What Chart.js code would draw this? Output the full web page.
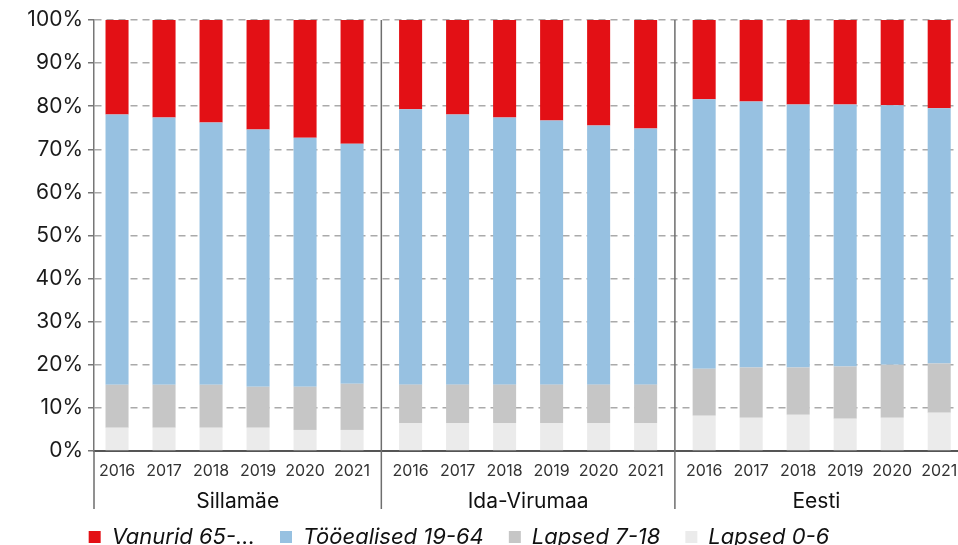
<!DOCTYPE html>
<html><head><meta charset="utf-8">
<script src="https://cdn.jsdelivr.net/npm/chart.js@4"></script>
<style>
html,body{margin:0;padding:0;overflow:hidden;background:#fff}
#wrap{width:958px;height:558px;position:relative}
</style>
</head><body>
<div id="wrap"><canvas id="c"></canvas></div>
<script>
// ---- data (percent shares), groups concatenated in order: Sillamäe, Ida-Virumaa, Eesti
const groups = ['Sillamäe', 'Ida-Virumaa', 'Eesti'];
const years = ['2016', '2017', '2018', '2019', '2020', '2021'];
const yTicks = [0, 10, 20, 30, 40, 50, 60, 70, 80, 90, 100];

const lapsed06   = [5.4, 5.4, 5.4, 5.4, 4.9, 4.9,   6.5, 6.5, 6.5, 6.5, 6.5, 6.5,   8.2, 7.7, 8.4, 7.5, 7.7, 8.9];
const lapsed718  = [10.0, 10.0, 10.0, 9.5, 10.0, 10.7,   8.9, 8.9, 8.9, 8.9, 8.9, 8.9,   10.9, 11.7, 11.0, 12.1, 12.3, 11.4];
const tooealised = [62.7, 62.0, 60.8, 59.7, 57.8, 55.7,   63.9, 62.7, 62.0, 61.3, 60.1, 59.4,   62.5, 61.7, 61.0, 60.8, 60.2, 59.2];
const vanurid    = [21.9, 22.6, 23.8, 25.4, 27.3, 28.7,   20.7, 21.9, 22.6, 23.3, 24.5, 25.2,   18.4, 18.9, 19.6, 19.6, 19.8, 20.5];

// ---- axis layout (category slots with a small extra gap between groups)
const GAP = 0.245;
const n = years.length;
const slot = k => Math.floor(k / n) * (n + GAP) + (k % n);
const positions = lapsed06.map((_, k) => slot(k));
const tickLabel = new Map(positions.map((p, k) => [p.toFixed(3), years[k % n]]));
const xMin = -0.49, xMax = positions[positions.length - 1] + 0.40;

const toPts = arr => arr.map((v, k) => ({ x: positions[k], y: v }));

const FONT = 'Inter, "Liberation Sans", Arial, sans-serif';

const groupPlugin = {
  id: 'groupPlugin',
  afterLayout(chart) {
    // nudge the legend row slightly left, as in the reference
    if (chart.legend) { chart.legend.left -= 20; chart.legend.right -= 20; }
  },
  afterDraw(chart) {
    const xs = chart.scales.x, ca = chart.chartArea, ctx = chart.ctx;
    const seps = [];
    for (let g = 1; g < groups.length; g++) seps.push(xs.getPixelForValue(g * (n + GAP) - (1 + GAP) / 2));
    const bounds = [ca.left, ...seps, ca.right];
    const bottom = ca.bottom + 58;
    ctx.save();
    ctx.strokeStyle = '#6e6e6e';
    ctx.lineWidth = 1.5;
    ctx.beginPath();
    ctx.moveTo(ca.left, ca.bottom); ctx.lineTo(ca.left, bottom);
    seps.forEach(x => { ctx.moveTo(x, ca.top); ctx.lineTo(x, bottom); });
    ctx.stroke();
    ctx.fillStyle = '#111';
    ctx.font = '21px ' + FONT;
    ctx.textAlign = 'center';
    ctx.textBaseline = 'middle';
    groups.forEach((gname, g) => {
      ctx.fillText(gname, (bounds[g] + bounds[g + 1]) / 2, ca.bottom + 51);
    });
    ctx.restore();
  }
};

new Chart(document.getElementById('c'), {
  type: 'bar',
  data: {
    datasets: [
      { label: 'Lapsed 0-6', data: toPts(lapsed06), backgroundColor: '#EBEBEB' },
      { label: 'Lapsed 7-18', data: toPts(lapsed718), backgroundColor: '#C6C6C6' },
      { label: 'Tööealised 19-64', data: toPts(tooealised), backgroundColor: '#97C1E1' },
      { label: 'Vanurid 65-...', data: toPts(vanurid), backgroundColor: '#E31015' }
    ]
  },
  options: {
    responsive: true,
    maintainAspectRatio: false,
    animation: false,
    layout: { padding: { top: 20, left: 0, right: 0, bottom: 0 } },
    datasets: { bar: { barPercentage: 0.49, categoryPercentage: 1, borderWidth: 0 } },
    plugins: {
      tooltip: { enabled: false },
      legend: {
        position: 'bottom',
        reverse: true,
        labels: {
          boxWidth: 12, boxHeight: 12, padding: 25,
          color: '#111',
          font: { family: FONT, size: 22, style: 'italic' }
        }
      }
    },
    scales: {
      x: {
        type: 'linear', stacked: true, min: xMin, max: xMax, offset: false,
        grid: { display: false },
        border: { display: true, color: '#555', width: 2 },
        afterBuildTicks: s => { s.ticks = positions.map(v => ({ value: v })); },
        afterFit: s => { s.height = 50; s.paddingLeft = 0; s.paddingRight = 0; },
        ticks: {
          autoSkip: false, maxRotation: 0, padding: 3, color: '#333',
          font: { family: FONT, size: 16 },
          callback: v => tickLabel.get(Number(v).toFixed(3)) || ''
        }
      },
      y: {
        stacked: true, min: 0, max: 100,
        afterBuildTicks: s => { s.ticks = yTicks.map(v => ({ value: v })); },
        afterFit: s => { s.width = 94; },
        grid: { color: '#aaa', lineWidth: 1.5, tickLength: 6, tickColor: '#777', tickBorderDash: [], tickWidth: 1.5 },
        border: { display: true, color: '#777', width: 1.5, dash: [7, 5] },
        ticks: {
          padding: 5, color: '#1a1a1a',
          font: { family: FONT, size: 21 },
          callback: v => v + '%'
        }
      }
    }
  },
  plugins: [groupPlugin]
});
</script>
</body></html>
